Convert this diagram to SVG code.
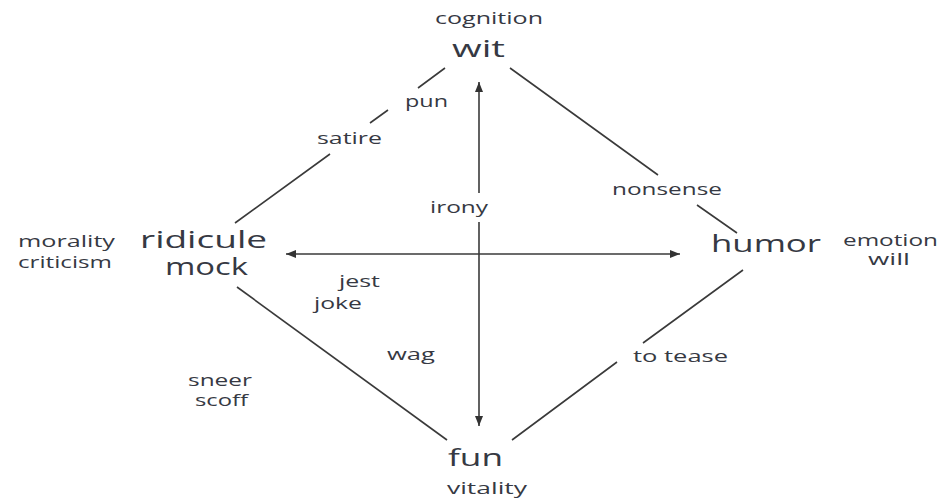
<svg xmlns="http://www.w3.org/2000/svg" width="945" height="498" viewBox="0 0 945 498">
<style>
text{font-family:"Open Sans","Noto Sans","Liberation Sans",sans-serif;fill:#363943}
.big{font-size:24px}
.sm{font-size:15.5px}
.ln{stroke:#3a3a3a;stroke-width:1.6;fill:none}
</style>
<defs>
<marker id="ah" viewBox="0 0 10 8" refX="10" refY="4" markerWidth="10" markerHeight="8" markerUnits="userSpaceOnUse" orient="auto">
<path d="M0,0 L10,4 L0,8 Z" fill="#333"/>
</marker>
</defs>
<rect width="945" height="498" fill="#fff"/>
<g id="connectors">
<path class="ln" d="M445,68 L418,88 M388,110 L370,123 M330,154 L235,223"/>
<path class="ln" d="M510,68 L658,175 M697,205 L737,233"/>
<path class="ln" d="M237,287 L447,440"/>
<path class="ln" d="M743,270 L643,343 M617,362 L512,440"/>
<line class="ln" x1="479" y1="193" x2="479" y2="82" marker-end="url(#ah)"/>
<line class="ln" x1="479" y1="222" x2="479" y2="426" marker-end="url(#ah)"/>
<line class="ln" x1="479" y1="254" x2="286" y2="254" marker-end="url(#ah)"/>
<line class="ln" x1="479" y1="254" x2="680" y2="254" marker-end="url(#ah)"/>
</g>
<g id="wit"><text class="sm" x="435" y="24" textLength="108" lengthAdjust="spacingAndGlyphs">cognition</text><text class="big" x="452" y="57" textLength="53" lengthAdjust="spacingAndGlyphs">wit</text></g>
<g id="ridicule"><text class="big" x="140" y="248" textLength="127" lengthAdjust="spacingAndGlyphs">ridicule</text><text class="big" x="165" y="275" textLength="83" lengthAdjust="spacingAndGlyphs">mock</text><text class="sm" x="18" y="247" textLength="97" lengthAdjust="spacingAndGlyphs">morality</text><text class="sm" x="18" y="268" textLength="94" lengthAdjust="spacingAndGlyphs">criticism</text></g>
<g id="humor"><text class="big" x="711" y="252" textLength="110" lengthAdjust="spacingAndGlyphs">humor</text><text class="sm" x="843" y="246" textLength="95" lengthAdjust="spacingAndGlyphs">emotion</text><text class="sm" x="868" y="265" textLength="42" lengthAdjust="spacingAndGlyphs">will</text></g>
<g id="fun"><text class="big" x="448" y="466" textLength="55" lengthAdjust="spacingAndGlyphs">fun</text><text class="sm" x="447" y="494" textLength="80" lengthAdjust="spacingAndGlyphs">vitality</text></g>
<g id="labels">
<text class="sm" x="405" y="107" textLength="43" lengthAdjust="spacingAndGlyphs">pun</text>
<text class="sm" x="317" y="144" textLength="65" lengthAdjust="spacingAndGlyphs">satire</text>
<text class="sm" x="430" y="213" textLength="58" lengthAdjust="spacingAndGlyphs">irony</text>
<text class="sm" x="612" y="195" textLength="110" lengthAdjust="spacingAndGlyphs">nonsense</text>
<text class="sm" x="339" y="287" textLength="41" lengthAdjust="spacingAndGlyphs">jest</text>
<text class="sm" x="314" y="309" textLength="48" lengthAdjust="spacingAndGlyphs">joke</text>
<text class="sm" x="387" y="360" textLength="48" lengthAdjust="spacingAndGlyphs">wag</text>
<text class="sm" x="188" y="386" textLength="64" lengthAdjust="spacingAndGlyphs">sneer</text>
<text class="sm" x="195" y="406" textLength="53" lengthAdjust="spacingAndGlyphs">scoff</text>
<text class="sm" x="633" y="362" textLength="95" lengthAdjust="spacingAndGlyphs">to tease</text>
</g>
</svg>
